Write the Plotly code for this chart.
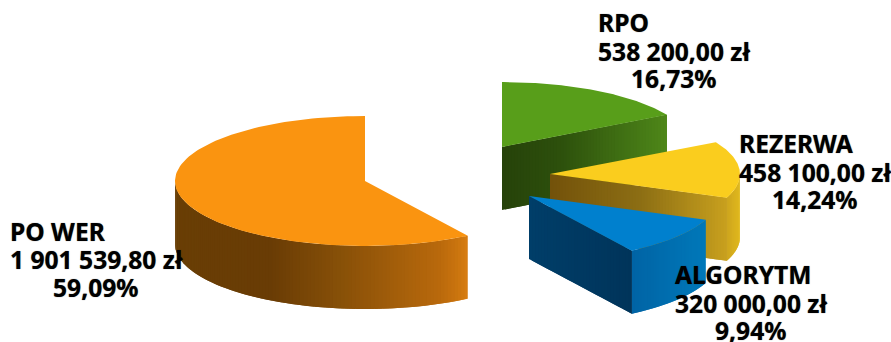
import numpy as np
import plotly.graph_objects as go

# Data, clockwise from 12 o'clock
names = ["RPO", "REZERWA", "ALGORYTM", "PO WER"]
amounts = [538200.00, 458100.00, 320000.00, 1901539.80]
amount_labels = ["538 200,00 zł", "458 100,00 zł", "320 000,00 zł", "1 901 539,80 zł"]
percent_labels = ["16,73%", "14,24%", "9,94%", "59,09%"]

# Drawing style
RX, RY, DEPTH = 190.0, 65.0, 63.0
centers = {"RPO": (502, 147), "REZERWA": (550, 174), "ALGORYTM": (529, 196), "PO WER": (365, 181)}
top_colors = {"RPO": "#589E1A", "REZERWA": "#FACD1E", "ALGORYTM": "#0080CE", "PO WER": "#FA9410"}
cut_stops = {
    "RPO": [(502, (38, 66, 10)), (560, (45, 80, 12)), (667, (78, 135, 25))],
    "REZERWA": [(550, (115, 82, 10)), (640, (140, 110, 20)), (727, (200, 160, 30))],
    "ALGORYTM": [(529, (0, 62, 105)), (633, (0, 52, 90))],
}
arc_stops = {
    "REZERWA": [(727, (205, 165, 30)), (740, (225, 185, 30))],
    "ALGORYTM": [(633, (0, 100, 165)), (705, (0, 120, 185))],
    "PO WER": [(175, (105, 62, 5)), (270, (105, 60, 5)), (340, (135, 80, 8)),
               (440, (185, 105, 12)), (460, (205, 118, 15)), (467, (215, 125, 18))],
}
# left edge of the first two label lines, centre of the percentage, line positions
label_pos = {"RPO": (597, 673, [22, 51, 78]), "REZERWA": (738, 814, [143, 172, 199]),
             "ALGORYTM": (674, 750, [274, 303, 330]), "PO WER": (9, 95, [231, 259, 287])}


def rim(name, a):
    cx, cy = centers[name]
    return cx + RX * np.sin(a), cy - RY * np.cos(a)


def color_at(stops, x):
    xs = [s[0] for s in stops]
    rgb = [int(round(np.interp(x, xs, [s[1][i] for s in stops]))) for i in range(3)]
    return f"rgb({rgb[0]},{rgb[1]},{rgb[2]})"


def poly(fig, xs, ys, color):
    fig.add_trace(go.Scatter(x=list(xs), y=list(ys), mode="lines", fill="toself", fillcolor=color,
                             line=dict(color=color, width=0), hoverinfo="skip", showlegend=False))


def strips(fig, xs, ys, stops):
    # painter's strips: each overlaps the next one, so no seam shows between them
    n = len(xs)
    for i in range(n - 1):
        j = min(i + 2, n - 1)
        xt, yt = xs[i:j + 1], ys[i:j + 1]
        poly(fig, np.r_[xt, xt[::-1], xt[0]], np.r_[yt, yt[::-1] + DEPTH, yt[0]],
             color_at(stops, (xs[i] + xs[i + 1]) / 2))


fig = go.Figure()
total = sum(amounts)
edges = np.concatenate([[0], np.cumsum(amounts) / total * 2 * np.pi])

for idx, name in enumerate(names):
    a0, a1 = edges[idx], edges[idx + 1]
    cx, cy = centers[name]
    # Outer wall: the part of the rim facing the viewer
    lo, hi = max(a0, np.pi / 2), min(a1, 3 * np.pi / 2)
    if hi > lo and name in arc_stops:
        aa = np.linspace(lo, hi, max(int((hi - lo) * 50), 8) + 1)
        xr, yr = rim(name, aa)
        strips(fig, xr, yr, arc_stops[name])
    # Cut wall: from the apex to the slice's clockwise end
    if name in cut_stops:
        xe, ye = rim(name, a1)
        n = int((xe - cx) / 3)
        strips(fig, np.linspace(cx, xe, n + 1), np.linspace(cy, ye, n + 1), cut_stops[name])
    # Top face
    aa = np.linspace(a0, a1, 120)
    xr, yr = rim(name, aa)
    poly(fig, np.r_[cx, xr, cx], np.r_[cy, yr, cy], top_colors[name])

annotations = []
font = dict(family="Noto Sans", size=24.6, color="#000000", weight="bold", shadow="0 0 1px rgba(0,0,0,0.6)")
for name, amt, pct in zip(names, amount_labels, percent_labels):
    xl, xc, ys = label_pos[name]
    annotations.append(dict(x=xl, y=ys[0], text=name, showarrow=False, xanchor="left", yanchor="middle",
                            borderpad=0, font=font))
    annotations.append(dict(x=xl, y=ys[1], text=amt, showarrow=False, xanchor="left", yanchor="middle",
                            borderpad=0, font=font))
    annotations.append(dict(x=xc, y=ys[2], text=pct, showarrow=False, xanchor="center", yanchor="middle",
                            borderpad=0, font=font))

fig.update_layout(
    width=891, height=342, margin=dict(l=0, r=0, t=0, b=0), paper_bgcolor="white", plot_bgcolor="white",
    xaxis=dict(range=[0, 891], visible=False, fixedrange=True),
    yaxis=dict(range=[342, 0], visible=False, fixedrange=True),
    annotations=annotations, showlegend=False,
)
fig.write_html("out.html", config={"displayModeBar": False},
               post_script="document.body.style.margin='0';document.documentElement.style.overflow='hidden';")
